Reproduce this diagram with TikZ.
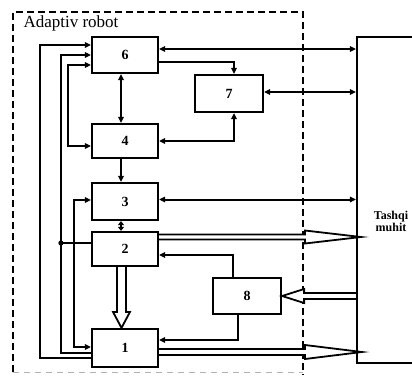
\documentclass[tikz,border=0pt]{standalone}
\usepackage{fontspec}
\setmainfont{Liberation Serif}
\usetikzlibrary{arrows.meta,calc}
\begin{document}
\begin{tikzpicture}[x=1pt,y=-1pt,
  blk/.style={draw,line width=2.2pt,minimum width=66pt,inner sep=0pt,font=\bfseries\fontsize{14}{16}\selectfont},
  conn/.style={line width=2pt,>={Triangle[length=6pt,width=5.5pt]}},
  hollow/.style={line width=1.8pt,fill=white,line join=miter}]
\useasboundingbox (0,0) rectangle (412,375);
\clip (0,0) rectangle (412,375);
% outer dashed frame
\draw[line width=2.4pt,dash pattern=on 7pt off 4pt] (13,372) -- (13,12) -- (303,12) -- (303,375);
\draw[line width=1pt,gray!60,dash pattern=on 6pt off 5pt] (13,372) -- (303,372);
\node[anchor=base west,font=\fontsize{17}{19}\selectfont] (title) at (20,27) {Adaptiv robot};
% blocks
\node[blk,minimum height=36pt] (n6) at (125,55) {6};
\node[blk,minimum height=34pt] (n4) at (125,141) {4};
\node[blk,minimum height=37pt] (n3) at (125,201.5) {3};
\node[blk,minimum height=34pt] (n2) at (125,249) {2};
\node[blk,minimum height=38pt] (n1) at (125,348) {1};
\node[blk,minimum width=68pt,minimum height=37pt] (n7) at (229,93.5) {7};
\node[blk,minimum width=68pt,minimum height=36pt] (n8) at (247,296) {8};
\node[draw,line width=2.2pt,minimum width=83pt,minimum height=326pt,inner sep=0pt] (T) at (398.5,200) {};
\node[font=\bfseries\fontsize{12}{12}\selectfont,align=center] (Tl) at (391,221) {Tashqi\\muhit};
% right-side connectors
\path ([yshift=6pt]n6.east) coordinate (a1);
\draw[conn,<->] (a1) -- (a1 -| T.west);
\draw[conn,->] ([yshift=-7pt]n6.east) -| ([xshift=5pt]n7.north);
\draw[conn,<->] (n4.east) -| ([xshift=5pt]n7.south);
\path ([yshift=1.5pt]n7.east) coordinate (a2);
\draw[conn,<->] (a2) -- (a2 -| T.west);
\path ([yshift=2pt]n3.east) coordinate (a3);
\draw[conn,<->] (a3) -- (a3 -| T.west);
\draw[conn,<->] ([xshift=-4pt]n6.south) -- ([xshift=-4pt]n4.north);
\draw[conn,->] ([xshift=-4pt]n4.south) -- ([xshift=-4pt]n3.north);
\draw[line width=2pt,{Triangle[length=4pt,width=6pt]}-{Triangle[length=4pt,width=6pt]}] ([xshift=-4pt]n3.south) -- ([xshift=-4pt]n2.north);
\draw[conn,->] ([xshift=-14pt]n8.north) |- ([yshift=-6pt]n2.east);
\draw[conn,->] ([xshift=-9pt]n8.south) |- ([yshift=8pt]n1.east);
% hollow arrows
\draw[hollow] let \p1=([yshift=12pt]n2.east), \p2=(T.west) in
  (\x1,\y1+2.5pt) -- (\x2-51pt,\y1+2.5pt) -- (\x2-51pt,\y1+6.5pt) -- (\x2+5pt,\y1)
  -- (\x2-51pt,\y1-6.5pt) -- (\x2-51pt,\y1-2.5pt) -- (\x1,\y1-2.5pt);
\draw[hollow] let \p1=([yshift=-4pt]n1.east), \p2=(T.west) in
  (\x1,\y1+3pt) -- (\x2-51pt,\y1+3pt) -- (\x2-51pt,\y1+7pt) -- (\x2+6pt,\y1)
  -- (\x2-51pt,\y1-7pt) -- (\x2-51pt,\y1-3pt) -- (\x1,\y1-3pt);
\draw[hollow] let \p1=(n8.east), \p2=(T.west) in
  (\x2,\y1+3pt) -- (\x1+22pt,\y1+3pt) -- (\x1+22pt,\y1+7pt) -- (\x1,\y1)
  -- (\x1+22pt,\y1-7pt) -- (\x1+22pt,\y1-3pt) -- (\x2,\y1-3pt);
\draw[hollow] let \p1=([xshift=-3.5pt]n2.south), \p2=([xshift=-3.5pt]n1.north) in
  (\x1-4.5pt,\y1) -- (\x1-4.5pt,\y2+16pt) -- (\x1-8.5pt,\y2+16pt) -- (\x2,\y2)
  -- (\x1+8.5pt,\y2+16pt) -- (\x1+4.5pt,\y2+16pt) -- (\x1+4.5pt,\y1);
% left feedback lines
\draw[conn,->] ([yshift=-10pt]n1.west) -- ++(-51,0) |- ([yshift=10pt]n6.west);
\draw[conn,->] ([yshift=-5pt]n1.west) -- ++(-30,0) coordinate (m1) |- (n6.west);
\path ([yshift=6pt]n2.west) coordinate (j2);
\draw[conn] (j2) -- (j2 -| m1);
\fill (j2 -| m1) circle (2.6pt);
\draw[conn,<->] ([yshift=-10pt]n6.west) -- ++(-23,0) |- ([yshift=-5pt]n4.west);
\draw[conn,<->] ([yshift=1.5pt]n3.west) -- ++(-17,0) |- ([yshift=1pt]n1.west);
\end{tikzpicture}
\end{document}
